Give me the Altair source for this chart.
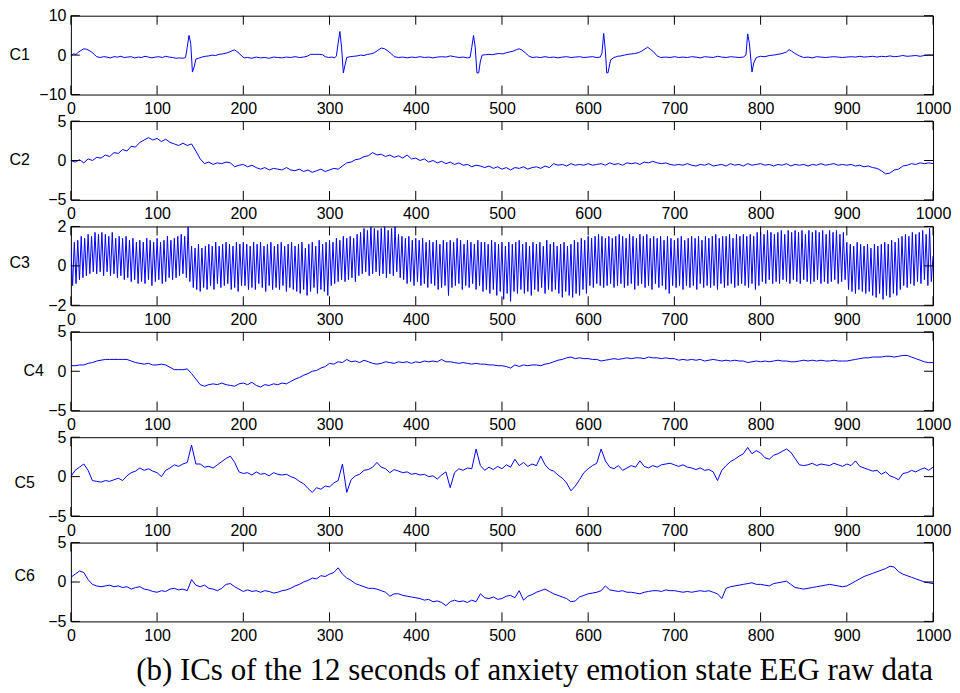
import altair as alt
import pandas as pd

# ---------------- data ----------------
x_ticks = [0, 100, 200, 300, 400, 500, 600, 700, 800, 900, 1000]
caption = "(b) ICs of the 12 seconds of anxiety emotion state EEG raw data"

c1_x = [0, 3, 6, 9, 12, 15, 18, 21, 24, 27, 30, 34, 38, 42, 46, 50, 54, 58, 62, 66, 70, 74, 78, 82, 86, 90, 94, 98,
        102, 106, 110, 114, 118, 122, 126, 130, 133, 135, 137, 139, 141, 143, 145, 148, 152, 156, 160, 164, 168, 172,
        176, 180, 184, 188, 190, 192, 195, 198, 201, 205, 210, 215, 220, 225, 230, 235, 240, 245, 250, 255, 260, 265,
        270, 274, 278, 283, 288, 292, 295, 299, 303, 306, 308, 310, 312, 314, 316, 318, 320, 324, 328, 332, 336, 340,
        344, 348, 352, 356, 360, 364, 368, 372, 375, 380, 385, 390, 395, 400, 405, 410, 415, 420, 425, 430, 435, 440,
        445, 450, 455, 460, 463, 465, 467, 469, 471, 473, 475, 477, 481, 485, 489, 493, 497, 501, 505, 509, 513, 517,
        520, 523, 527, 531, 535, 540, 545, 550, 555, 560, 565, 570, 575, 580, 585, 590, 595, 600, 605, 610, 614, 616,
        618, 620, 621.5, 623, 626, 630, 634, 638, 642, 646, 650, 654, 658, 662, 666, 669, 672, 676, 680, 684, 690, 695,
        700, 705, 710, 715, 720, 725, 730, 735, 740, 745, 750, 755, 760, 765, 770, 775, 780, 783, 785, 787, 790, 792,
        795, 800, 805, 810, 815, 820, 825, 830, 833, 836, 840, 845, 850, 855, 860, 865, 870, 875, 880, 885, 890, 895,
        900, 905, 910, 915, 920, 925, 930, 935, 940, 945, 950, 955, 960, 965, 970, 975, 980, 985, 990, 995, 1000]
c1_y = [0.0, 0.3, 0.2, 0.8, 1.2, 1.6, 1.5, 1.2, 0.8, 0.2, -0.4, -0.6, -0.4, -0.5, -0.7, -0.4, -0.5, -0.3, -0.6, -0.5,
        -0.4, -0.7, -0.5, -0.6, -0.3, -0.5, -0.7, -0.5, -0.4, -0.6, -0.3, -0.5, -0.6, -0.8, -0.7, -0.8, -0.6, 2.0, 5.0,
        3.0, -4.3, -3.0, -1.0, -0.8, -0.5, -0.3, -0.2, 0.0, -0.1, 0.2, 0.3, 0.5, 0.8, 1.2, 1.3, 1.0, 0.5, -0.2, -0.7,
        -0.6, -0.8, -0.5, -0.7, -0.6, -0.8, -0.5, -0.6, -0.7, -0.5, -0.6, -0.4, -0.6, -0.5, -0.3, 0.2, 0.2, 0.2, 0.1,
        -0.4, -0.6, -0.5, -0.7, -0.2, 3.0, 6.0, 2.0, -4.5, -2.5, -0.6, -0.4, -0.3, -0.2, 0.0, -0.1, 0.2, 0.3, 0.6, 1.2,
        1.8, 1.6, 1.0, 0.3, -0.4, -0.6, -0.5, -0.7, -0.5, -0.6, -0.4, -0.6, -0.5, -0.7, -0.5, -0.4, -0.5, -0.2, -0.4,
        -0.6, -0.5, -0.7, -0.6, 2.0, 5.0, 2.0, -4.5, -4.5, -1.5, 0.0, 0.1, 0.2, 0.1, 0.3, 0.4, 0.3, 0.6, 0.8, 1.0, 1.4,
        1.6, 1.3, 0.6, -0.2, -0.6, -0.5, -0.6, -0.4, -0.6, -0.5, -0.7, -0.5, -0.4, -0.6, -0.5, -0.4, -0.6, -0.5, -0.4,
        -0.6, -0.5, 0.5, 5.5, 1.0, -4.5, -4.5, -1.2, -0.6, -0.3, -0.2, 0.0, 0.2, 0.3, 0.4, 0.6, 1.0, 1.6, 2.0, 1.5, 0.8,
        -0.2, -0.6, -0.5, -0.6, -0.4, -0.6, -0.5, -0.6, -0.4, -0.5, -0.7, -0.4, -0.5, -0.6, -0.3, -0.5, -0.6, -0.4,
        -0.5, -0.6, -0.5, 0.0, 5.4, 3.0, -4.3, -2.0, -0.6, -0.3, -0.4, -0.1, 0.0, 0.2, 0.4, 0.8, 1.4, 1.0, 0.4, -0.2,
        -0.6, -0.5, -0.7, -0.4, -0.5, -0.6, -0.5, -0.4, -0.5, -0.6, -0.5, -0.4, -0.5, -0.3, -0.5, -0.4, -0.3, -0.5,
        -0.3, -0.4, -0.2, -0.4, -0.3, -0.1, -0.3, -0.2, -0.1, -0.3, -0.1, 0.0, 0.0]

# step 5 series (x = 0, 5, ..., 1000)
c2_y = [0.0, -0.2, 0.1, -0.3, 0.2, 0.0, 0.4, 0.3, 0.7, 0.5, 1.0,
        0.9, 1.4, 1.2, 1.8, 1.7, 2.3, 2.6, 2.9, 2.6, 2.8,
        2.4, 2.7, 2.3, 2.1, 1.9, 2.2, 1.9, 2.1, 1.2, 0.2,
        -0.4, -0.2, -0.5, -0.3, -0.4, -0.2, -0.3, -0.8, -0.6, -0.5,
        -0.8, -0.6, -0.9, -1.1, -0.9, -1.2, -1.0, -1.1, -1.2, -0.9,
        -1.2, -1.3, -1.1, -1.4, -1.2, -1.5, -1.3, -1.1, -1.4, -1.2,
        -1.0, -1.1, -0.7, -0.3, -0.2, 0.1, 0.2, 0.5, 0.6, 1.0,
        0.7, 0.8, 0.5, 0.7, 0.4, 0.6, 0.3, 0.7, 0.2, 0.3,
        0.0, 0.2, -0.2, 0.0, -0.3, -0.1, -0.4, -0.2, -0.5, -0.3,
        -0.6, -0.5, -0.8, -0.6, -0.7, -0.9, -0.7, -1.0, -0.8, -1.1,
        -0.9, -1.2, -0.9, -1.0, -0.8, -1.1, -0.9, -0.8, -1.0, -0.7,
        -0.9, -0.4, -0.6, -0.5, -0.7, -0.4, -0.6, -0.5, -0.6, -0.4,
        -0.6, -0.5, -0.4, -0.6, -0.3, -0.5, -0.4, -0.6, -0.3, -0.4,
        -0.3, -0.5, -0.2, -0.3, -0.1, -0.3, -0.4, -0.3, -0.5, -0.6,
        -0.5, -0.6, -0.4, -0.6, -0.7, -0.5, -0.6, -0.4, -0.7, -0.6,
        -0.5, -0.7, -0.4, -0.6, -0.5, -0.7, -0.4, -0.6, -0.5, -0.4,
        -0.6, -0.5, -0.7, -0.5, -0.6, -0.4, -0.7, -0.5, -0.6, -0.5,
        -0.7, -0.5, -0.6, -0.4, -0.6, -0.5, -0.4, -0.6, -0.5, -0.6,
        -0.5, -0.7, -0.6, -0.8, -0.7, -0.9, -1.0, -1.3, -1.7, -1.6,
        -1.2, -1.1, -0.7, -0.6, -0.4, -0.5, -0.3, -0.4, -0.3, -0.4]

# step 2 series (x = 0, 2, ..., 1000)
c3_y = [0.9, -1.0, 1.2, -0.9, 1.3, -0.7, 1.5, -0.6, 1.4, -0.5,
        1.6, -0.4, 1.5, -0.3, 1.7, -0.4, 1.6, -0.3, 1.7, -0.5,
        1.6, -0.3, 1.5, -0.5, 1.7, -0.4, 1.4, -0.6, 1.5, -0.5,
        1.4, -0.7, 1.5, -0.6, 1.3, -0.8, 1.4, -0.7, 1.2, -0.9,
        1.3, -0.8, 1.2, -0.9, 1.4, -0.7, 1.3, -1.0, 1.2, -0.8,
        1.4, -0.7, 1.2, -0.9, 1.3, -0.8, 1.5, -0.6, 1.3, -0.7,
        1.4, -0.6, 1.5, -0.5, 1.6, -0.4, 1.5, -0.6, 2.0, -0.8,
        1.0, -1.1, 0.9, -1.2, 1.1, -1.3, 0.9, -1.1, 1.0, -1.2,
        1.1, -1.0, 1.0, -1.2, 1.2, -0.9, 1.0, -1.1, 1.1, -1.0,
        1.2, -0.9, 1.1, -1.2, 1.0, -1.1, 1.2, -1.3, 1.1, -1.0,
        1.2, -1.0, 1.1, -1.2, 1.0, -1.1, 1.2, -1.2, 1.1, -0.9,
        1.2, -1.1, 1.0, -1.3, 1.1, -1.0, 1.2, -1.2, 1.0, -1.1,
        1.1, -1.2, 1.2, -1.0, 1.0, -1.3, 1.1, -1.1, 1.2, -1.2,
        1.0, -1.3, 1.1, -1.4, 1.2, -1.2, 0.9, -1.5, 1.1, -1.3,
        1.2, -1.1, 1.0, -1.4, 1.3, -1.2, 1.1, -1.3, 1.2, -1.5,
        1.3, -1.0, 1.2, -0.9, 1.4, -0.8, 1.3, -0.7, 1.5, -0.8,
        1.4, -0.7, 1.5, -0.6, 1.4, -0.8, 1.6, -0.5, 1.7, -0.4,
        1.9, -0.3, 1.8, -0.5, 2.0, -0.4, 1.9, -0.3, 1.8, -0.5,
        1.9, -0.4, 2.0, -0.6, 1.8, -0.4, 1.9, -0.5, 2.0, -0.3,
        1.6, -0.6, 1.5, -0.7, 1.4, -0.9, 1.5, -0.8, 1.3, -1.0,
        1.4, -0.8, 1.3, -1.0, 1.4, -0.9, 1.2, -1.1, 1.3, -0.9,
        1.2, -1.0, 1.3, -1.2, 1.1, -1.1, 1.3, -1.0, 1.2, -1.5,
        1.3, -1.1, 1.2, -1.0, 1.4, -0.9, 1.3, -1.2, 1.1, -1.0,
        1.3, -1.1, 1.2, -0.9, 1.1, -1.2, 1.3, -1.0, 1.2, -1.3,
        1.2, -1.2, 1.1, -1.4, 1.3, -1.2, 1.2, -1.5, 1.1, -1.3,
        1.2, -1.7, 1.0, -1.4, 1.2, -1.8, 1.1, -1.3, 1.2, -1.4,
        1.3, -1.2, 1.1, -1.4, 1.2, -1.3, 1.0, -1.5, 1.2, -1.2,
        1.1, -1.3, 1.2, -1.1, 1.0, -1.4, 1.3, -1.2, 1.1, -1.3,
        1.2, -1.2, 1.0, -1.4, 1.1, -1.6, 1.2, -1.3, 1.0, -1.5,
        1.1, -1.6, 1.3, -1.4, 1.2, -1.5, 1.4, -1.2, 1.3, -1.4,
        1.5, -1.0, 1.4, -1.1, 1.5, -0.9, 1.6, -1.0, 1.5, -1.1,
        1.4, -1.0, 1.5, -0.9, 1.4, -1.1, 1.5, -1.0, 1.6, -0.9,
        1.5, -1.1, 1.4, -1.0, 1.6, -0.9, 1.5, -1.2, 1.4, -1.0,
        1.6, -0.9, 1.5, -1.1, 1.6, -1.0, 1.4, -1.2, 1.5, -0.9,
        1.4, -1.1, 1.5, -1.0, 1.3, -1.2, 1.5, -1.4, 1.4, -1.0,
        1.3, -1.1, 1.4, -1.0, 1.5, -1.2, 1.3, -1.0, 1.4, -1.1,
        1.5, -1.0, 1.4, -1.2, 1.5, -0.9, 1.3, -1.1, 1.5, -1.0,
        1.4, -1.1, 1.5, -1.0, 1.6, -1.2, 1.4, -0.9, 1.5, -1.1,
        1.5, -1.0, 1.6, -0.9, 1.4, -1.1, 1.6, -1.0, 1.5, -0.9,
        1.6, -1.0, 1.5, -1.1, 1.6, -0.9, 1.5, -1.2, 1.7, -1.0,
        1.7, -0.8, 1.6, -0.9, 1.8, -0.7, 1.7, -0.9, 1.6, -0.8,
        1.7, -0.9, 1.8, -0.7, 1.6, -0.8, 1.8, -0.9, 1.7, -0.7,
        1.8, -0.8, 1.7, -0.9, 1.8, -0.7, 1.6, -0.8, 1.8, -0.9,
        1.7, -0.8, 1.8, -0.7, 1.7, -0.9, 1.8, -0.8, 1.6, -0.9,
        1.8, -0.8, 1.7, -0.7, 1.8, -0.9, 1.6, -0.8, 1.7, -0.7,
        1.2, -1.2, 1.1, -1.3, 1.0, -1.4, 1.2, -1.2, 1.1, -1.3,
        1.0, -1.4, 1.1, -1.3, 0.9, -1.5, 1.1, -1.6, 1.0, -1.4,
        1.1, -1.7, 1.2, -1.5, 1.1, -1.6, 1.3, -1.4, 1.2, -1.5,
        1.4, -1.2, 1.5, -1.0, 1.6, -1.1, 1.5, -0.9, 1.7, -1.0,
        1.6, -0.8, 1.7, -0.9, 1.8, -0.7, 1.6, -1.0, 1.9, -0.8,
        0.5]

c4_y = [0.7, 0.7, 0.8, 0.8, 1.0, 1.1, 1.3, 1.4, 1.5, 1.5, 1.5,
        1.5, 1.5, 1.5, 1.3, 1.1, 1.0, 0.9, 1.0, 0.8, 0.8,
        0.9, 0.8, 0.5, 0.2, 0.2, 0.2, 0.3, -0.3, -1.0, -1.7,
        -1.9, -1.7, -1.6, -1.7, -1.5, -1.7, -1.8, -1.9, -1.6, -1.5,
        -1.7, -1.4, -1.8, -2.0, -1.7, -1.8, -1.6, -1.7, -1.5, -1.6,
        -1.3, -1.0, -0.8, -0.5, -0.3, 0.0, 0.1, 0.4, 0.6, 1.0,
        0.9, 1.2, 1.1, 1.5, 1.2, 1.3, 1.1, 1.4, 1.2, 1.0,
        0.9, 1.0, 1.2, 1.1, 1.0, 1.2, 1.1, 1.2, 1.0, 1.2,
        1.1, 1.3, 1.2, 1.3, 1.2, 1.5, 1.2, 1.2, 1.1, 1.0,
        1.1, 1.0, 0.9, 1.0, 0.9, 0.9, 0.8, 0.8, 0.7, 0.7,
        0.6, 0.4, 0.8, 0.6, 0.8, 0.7, 0.8, 0.8, 0.7, 0.9,
        1.0, 1.2, 1.4, 1.5, 1.7, 1.8, 1.6, 1.7, 1.6, 1.6,
        1.5, 1.5, 1.3, 1.4, 1.5, 1.6, 1.5, 1.6, 1.7, 1.6,
        1.7, 1.7, 1.6, 1.8, 1.7, 1.7, 1.6, 1.7, 1.6, 1.6,
        1.4, 1.5, 1.4, 1.5, 1.4, 1.5, 1.3, 1.4, 1.5, 1.4,
        1.3, 1.4, 1.3, 1.4, 1.3, 1.3, 1.1, 1.2, 1.3, 1.2,
        1.3, 1.2, 1.3, 1.4, 1.3, 1.3, 1.2, 1.2, 1.3, 1.4,
        1.3, 1.4, 1.3, 1.4, 1.3, 1.3, 1.4, 1.3, 1.3, 1.3,
        1.4, 1.5, 1.6, 1.7, 1.7, 1.8, 1.8, 1.8, 1.9, 1.9,
        1.8, 1.9, 2.0, 2.0, 1.8, 1.6, 1.4, 1.2, 1.1, 1.1]

c5_y = [0.0, 0.8, 1.2, 1.6, 0.8, -0.5, -0.6, -0.7, -0.5, -0.6, -0.4,
        -0.2, -0.5, 0.1, 0.5, 0.7, 1.1, 0.8, 1.0, 0.7, 0.5,
        0.0, 0.8, 1.1, 1.5, 1.3, 1.6, 1.8, 4.0, 1.6, 1.6,
        1.2, 1.3, 1.1, 1.5, 1.9, 2.3, 2.6, 1.8, 0.6, 0.4,
        0.5, 0.2, 0.6, 0.3, 0.4, 0.1, 0.5, 0.3, 0.2, 0.3,
        0.0, -0.2, -0.6, -0.9, -1.5, -2.0, -1.4, -1.6, -1.2, -1.3,
        -0.8, -0.5, 1.6, -2.0, -0.4, 0.1, 0.3, 0.8, 0.9, 1.2,
        1.8, 1.2, 1.0, 0.5, 0.9, 0.7, 0.5, 0.6, 0.3, 0.4,
        0.2, 0.3, 0.0, 0.1, -0.3, 0.2, 0.6, -1.4, 0.5, 1.0,
        0.8, 1.1, 1.0, 3.5, 1.4, 0.8, 1.2, 0.9, 1.3, 1.0,
        1.5, 1.2, 2.2, 1.4, 1.8, 1.3, 1.6, 1.4, 2.6, 1.5,
        0.9, 0.7, 0.2, -0.2, -0.8, -1.8, -1.2, -0.4, 0.5, 1.0,
        1.4, 1.7, 3.5, 2.0, 1.2, 1.0, 1.4, 0.8, 1.1, 1.4,
        1.2, 2.0, 1.3, 1.1, 1.4, 1.2, 1.5, 1.6, 1.7, 1.5,
        1.3, 1.5, 1.2, 1.1, 0.9, 1.1, 0.8, 0.9, 0.6, -0.5,
        0.8, 1.4, 1.9, 2.2, 2.6, 2.9, 3.7, 2.9, 3.3, 3.0,
        2.4, 2.2, 2.7, 2.9, 3.2, 3.5, 3.1, 2.3, 1.5, 1.4,
        1.5, 1.7, 1.4, 1.6, 1.5, 1.4, 1.7, 1.5, 1.3, 1.6,
        1.4, 2.0, 1.3, 1.1, 0.9, 0.7, 0.8, 0.3, 0.6, 0.1,
        -0.1, -0.4, 0.4, 0.5, 0.8, 0.6, 0.9, 1.1, 0.8, 1.2]

c6_y = [0.6, 1.0, 1.4, 1.2, 0.3, -0.3, -0.5, -0.6, -0.5, -0.4, -0.6,
        -0.5, -0.7, -0.6, -0.9, -0.7, -0.6, -0.9, -1.0, -1.2, -1.3,
        -1.1, -1.2, -0.9, -0.8, -1.0, -0.9, -1.1, 0.3, -0.4, -0.6,
        -0.4, -0.8, -0.9, -1.1, -0.8, -0.3, -0.2, -0.6, -0.9, -1.2,
        -1.0, -1.2, -1.1, -1.3, -1.1, -1.2, -1.4, -1.3, -1.1, -1.0,
        -0.8, -0.5, -0.3, 0.0, 0.2, 0.5, 0.4, 0.8, 0.7, 1.0,
        1.2, 1.8, 1.0, 0.5, 0.2, -0.2, -0.4, -0.6, -0.8, -0.8,
        -0.9, -1.1, -1.3, -1.8, -1.5, -1.5, -1.7, -1.8, -1.9, -2.0,
        -2.1, -2.3, -2.2, -2.5, -2.4, -2.6, -3.0, -2.5, -2.3, -2.5,
        -2.4, -2.6, -2.3, -2.5, -1.5, -2.0, -2.1, -1.9, -2.2, -2.1,
        -1.8, -1.7, -2.0, -1.1, -2.3, -1.8, -1.6, -1.3, -1.1, -0.9,
        -1.2, -1.5, -1.7, -1.9, -2.1, -2.5, -2.4, -1.9, -1.7, -1.5,
        -1.4, -1.3, -1.1, -0.5, -1.0, -1.1, -1.2, -1.1, -1.3, -1.3,
        -1.4, -1.5, -1.3, -1.2, -1.1, -1.1, -1.2, -1.0, -1.1, -1.1,
        -1.2, -1.3, -1.2, -1.3, -1.2, -1.1, -1.2, -1.1, -1.3, -1.5,
        -2.1, -0.8, -0.6, -0.5, -0.4, -0.3, -0.2, -0.1, -0.3, -0.3,
        -0.4, -0.5, -0.2, -0.1, 0.0, 0.1, -0.3, -0.7, -0.8, -0.9,
        -0.8, -0.7, -0.6, -0.5, -0.4, -0.3, -0.4, -0.5, -0.6, -0.5,
        -0.2, 0.1, 0.4, 0.7, 0.9, 1.1, 1.3, 1.5, 1.7, 2.0,
        1.9, 1.3, 1.0, 0.8, 0.6, 0.4, 0.2, 0.0, -0.1, -0.2]

x_step5 = list(range(0, 1001, 5))
x_step2 = list(range(0, 1001, 2))

panels_spec = [
    # name, xs, ys, domain, yticks, title_dx, title_dy
    ("C1", c1_x, c1_y, [-10, 10], [-10, 0, 10], -62, 39),
    ("C2", x_step5, c2_y, [-5, 5], [-5, 0, 5], -62, 39),
    ("C3", x_step2, c3_y, [-2, 2], [-2, 0, 2], -62, 36),
    ("C4", x_step5, c4_y, [-5, 5], [-5, 0, 5], -48, 39),
    ("C5", x_step5, c5_y, [-5, 5], [-5, 0, 5], -57, 45),
    ("C6", x_step5, c6_y, [-5, 5], [-5, 0, 5], -57, 33),
]

W = 864
H = 79
TICK = 9
FONT = "Liberation Sans"


def make_panel(name, xs, ys, dom, yt, tdx, tdy):
    xscale = alt.Scale(domain=[0, 1000], nice=False, zero=False)
    yscale = alt.Scale(domain=dom, nice=False, zero=False)
    xaxis = alt.Axis(values=x_ticks, ticks=False, domain=False, grid=False, title=None,
                     labelFontSize=16, labelFont=FONT, labelColor="black",
                     labelFlush=False, labelOverlap=False, labelPadding=6, format="d")
    yaxis = alt.Axis(values=yt, ticks=False, domain=False, grid=False, title=name,
                     titleAngle=0, titleFont=FONT, titleFontSize=16, titleFontWeight="normal",
                     titleColor="black", titleAlign="left", titleBaseline="middle",
                     titleX=tdx, titleY=tdy,
                     labelFontSize=16, labelFont=FONT, labelColor="black",
                     labelFlush=False, labelOverlap=False, labelPadding=5, format="d")
    df = pd.DataFrame({"x": xs, "y": ys})
    line = alt.Chart(df).mark_line(color="#0000ff", strokeWidth=1, clip=True).encode(
        x=alt.X("x:Q", scale=xscale, axis=xaxis),
        y=alt.Y("y:Q", scale=yscale, axis=yaxis),
    )
    xt = pd.DataFrame({"x": x_ticks})
    yv = pd.DataFrame({"y": yt})
    top_ticks = alt.Chart(xt).mark_rule(color="black", strokeWidth=1).encode(
        x=alt.X("x:Q", scale=xscale, axis=xaxis), y=alt.value(0), y2=alt.value(TICK))
    bot_ticks = alt.Chart(xt).mark_rule(color="black", strokeWidth=1).encode(
        x=alt.X("x:Q", scale=xscale, axis=xaxis), y=alt.value(H - TICK), y2=alt.value(H))
    left_ticks = alt.Chart(yv).mark_rule(color="black", strokeWidth=1).encode(
        y=alt.Y("y:Q", scale=yscale, axis=yaxis), x=alt.value(0), x2=alt.value(TICK))
    right_ticks = alt.Chart(yv).mark_rule(color="black", strokeWidth=1).encode(
        y=alt.Y("y:Q", scale=yscale, axis=yaxis), x=alt.value(W - TICK), x2=alt.value(W))
    return alt.layer(line, top_ticks, bot_ticks, left_ticks, right_ticks).properties(width=W, height=H)


panels = [make_panel(*p) for p in panels_spec]

chart = alt.vconcat(*panels, spacing=26.6, bounds="flush").properties(
    title=alt.TitleParams(caption, orient="bottom", anchor="end", frame="group",
                          font="Liberation Serif", fontSize=31, fontWeight="normal",
                          color="black", offset=12),
    padding={"left": 0, "top": -2, "right": 0, "bottom": 0},
    background="white",
).configure_view(stroke="black", strokeWidth=1).configure_concat(spacing=26.6)

chart.save("out.html", embed_options={"renderer": "svg", "actions": False})
